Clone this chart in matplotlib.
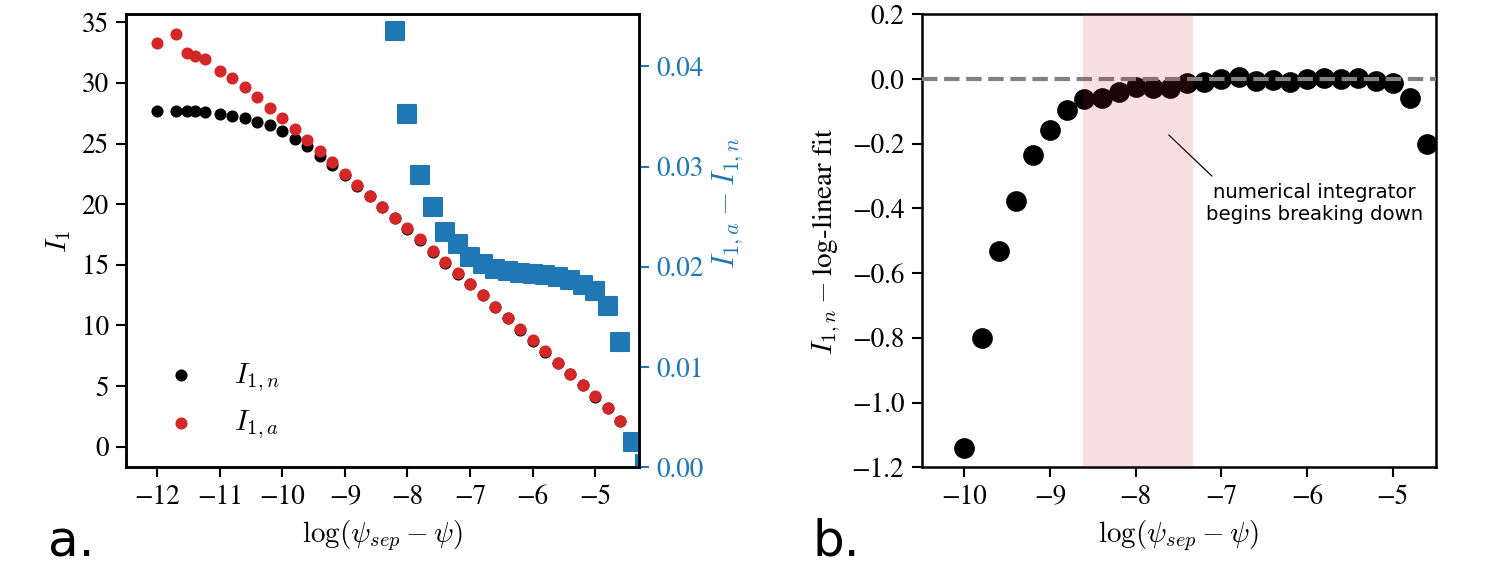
import matplotlib
matplotlib.use("Agg")
import matplotlib.pyplot as plt

plt.rcParams["font.family"] = "STIXGeneral"
plt.rcParams["mathtext.fontset"] = "cm"
plt.rcParams["font.size"] = 13
plt.rcParams["axes.linewidth"] = 1.2
plt.rcParams["xtick.major.size"] = 4.8
plt.rcParams["ytick.major.size"] = 4.8
plt.rcParams["xtick.major.width"] = 1.0
plt.rcParams["ytick.major.width"] = 1.0

# panel a: I_1 numerical vs analytic
x_a = [-12.0, -11.7, -11.52, -11.39, -11.23, -11.0, -10.8, -10.6, -10.4, -10.2,
       -10.0, -9.8, -9.6, -9.4, -9.2, -9.0, -8.8, -8.6, -8.4, -8.2,
       -8.0, -7.8, -7.6, -7.4, -7.2, -7.0, -6.8, -6.6, -6.4, -6.2,
       -6.0, -5.8, -5.6, -5.4, -5.2, -5.0, -4.8, -4.6]
I1_a = [33.3, 34.0, 32.5, 32.2, 32.0, 31.0, 30.4, 29.7, 28.8, 27.9,
        27.1, 26.2, 25.3, 24.4, 23.5, 22.5, 21.6, 20.7, 19.8, 18.9,
        18.0, 17.1, 16.1, 15.2, 14.3, 13.4, 12.5, 11.5, 10.6, 9.67,
        8.76, 7.86, 6.92, 5.99, 5.08, 4.15, 3.21, 2.12]
I1_n = [27.7, 27.7, 27.65, 27.65, 27.57, 27.4, 27.3, 27.1, 26.8, 26.5,
        26.0, 25.4, 24.8, 24.0, 23.2, 22.4, 21.5, 20.65, 19.75, 18.86,
        17.96, 17.07, 16.07, 15.18, 14.28, 13.38, 12.48, 11.48, 10.58, 9.65,
        8.74, 7.84, 6.90, 5.97, 5.06, 4.13, 3.19, 2.11]

x_diff = [-8.2, -8.0, -7.8, -7.6, -7.4, -7.2, -7.0, -6.8, -6.6, -6.4, -6.2,
          -6.0, -5.8, -5.6, -5.4, -5.2, -5.0, -4.8, -4.6, -4.4, -4.2]
diff = [0.0435, 0.0353, 0.0292, 0.0260, 0.0235, 0.0223, 0.0210, 0.0203, 0.0198,
        0.0196, 0.0194, 0.0193, 0.0192, 0.0190, 0.0187, 0.0182, 0.0176, 0.0161,
        0.0125, 0.0025, 0.0003]

# panel b: residual from log-linear fit
x_b = [-10.0, -9.8, -9.6, -9.4, -9.2, -9.0, -8.8, -8.6, -8.4, -8.2, -8.0, -7.8,
       -7.6, -7.4, -7.2, -7.0, -6.8, -6.6, -6.4, -6.2, -6.0, -5.8, -5.6, -5.4,
       -5.2, -5.0, -4.8, -4.6]
resid = [-1.139, -0.800, -0.533, -0.376, -0.236, -0.158, -0.095, -0.063, -0.059,
         -0.039, -0.024, -0.028, -0.029, -0.011, -0.010, 0.000, 0.005, -0.007,
         -0.003, -0.010, 0.000, 0.003, 0.000, 0.004, -0.005, -0.013, -0.059, -0.202]
span_lo, span_hi = -8.62, -7.33

fig = plt.figure(figsize=(9.96, 3.78), dpi=150)
ax1 = fig.add_axes([0.0843, 0.1758, 0.3434, 0.799])
ax2 = ax1.twinx()
ax3 = fig.add_axes([0.6169, 0.1758, 0.344, 0.799])

ax1.scatter(x_a, I1_n, s=23, color="black", label=r"$I_{1,n}$", zorder=2)
ax1.scatter(x_a, I1_a, s=23, color="tab:red", label=r"$I_{1,a}$", zorder=3)
ax1.set_xlim(-12.5, -4.3)
ax1.set_ylim(-1.7, 35.66)
ax1.set_xticks(range(-12, -4))
ax1.set_yticks(range(0, 36, 5))
ax1.set_xlabel(r"$\log(\psi_{sep} - \psi)$", fontsize=14)
ax1.set_ylabel(r"$I_1$", fontsize=14)
ax1.legend(loc="lower left", frameon=False, fontsize=14)

ax2.scatter(x_diff, diff, s=78, marker="s", color="tab:blue")
ax2.set_ylim(0, 0.0452)
ax2.set_yticks([0.0, 0.01, 0.02, 0.03, 0.04])
ax2.tick_params(axis="y", colors="tab:blue")
ax2.set_ylabel(r"$I_{1,a} - I_{1,n}$", color="tab:blue", fontsize=15)
ax2.yaxis.set_label_coords(1.14, 0.585)

ax3.scatter(x_b, resid, s=80, color="black", zorder=2)
ax3.axhline(0, ls="--", color="gray", lw=2, zorder=3)
ax3.axvspan(span_lo, span_hi, color="tab:red", alpha=0.14, lw=0, zorder=4)
ax3.set_xlim(-10.5, -4.5)
ax3.set_ylim(-1.2, 0.2)
ax3.set_xticks(range(-10, -4))
ax3.set_xlabel(r"$\log(\psi_{sep} - \psi)$", fontsize=14)
ax3.set_ylabel(r"$I_{1,n} - $log-linear fit", fontsize=14)
ax3.annotate("numerical integrator\nbegins breaking down", xy=(-7.65, -0.164),
             xytext=(-5.91, -0.385), ha="center", va="center", fontsize=9.5,
             family="DejaVu Sans",
             arrowprops=dict(arrowstyle="-", color="black", lw=0.6, relpos=(0.06, 1)))

fig.text(0.032, 0.018, "a.", fontsize=24, family="DejaVu Sans")
fig.text(0.544, 0.020, "b.", fontsize=24, family="DejaVu Sans")

fig.savefig("out.png", dpi=150)
